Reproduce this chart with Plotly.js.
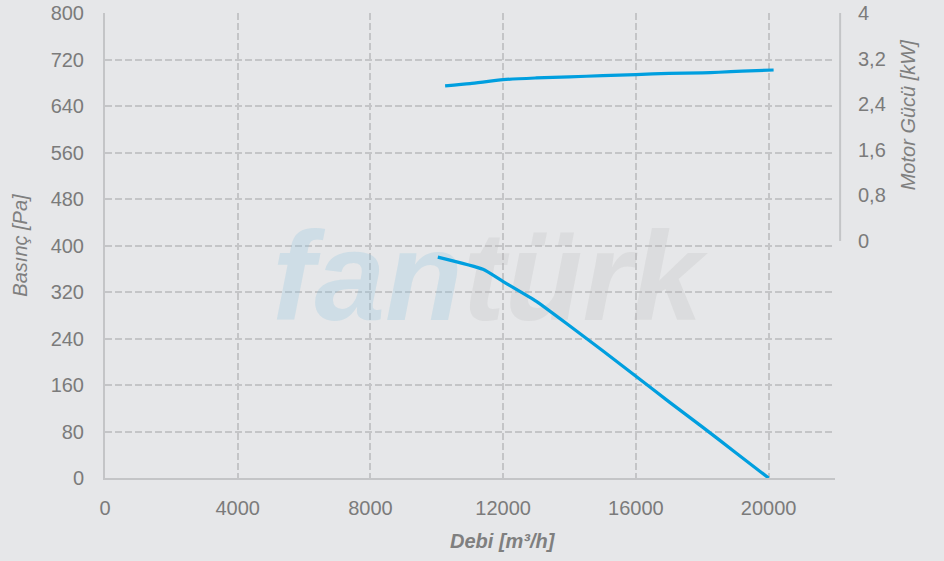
<!DOCTYPE html>
<html>
<head>
<meta charset="utf-8">
<script src="https://cdn.plot.ly/plotly-3.0.1.min.js"></script>
<style>html,body{margin:0;padding:0;background:#e6e7e9;}#chart{width:944px;height:561px;}</style>
</head>
<body>
<div id="chart"></div>
<script>
// Pressure curve (Basınç, Pa) vs flow (Debi, m³/h)
const flowPressure = [10030, 11390, 12000, 13000, 14000, 15000, 16000, 17000, 18000, 19000, 20000];
const pressure     = [380,   359,   338,   304,   262,   219,   175,   131,   88,    44,    0];
// Motor power curve (kW) vs flow
const flowPower = [10250, 11000, 12000, 13000, 14000, 15000, 16000, 17000, 18000, 18500, 19200, 20150];
const power     = [2.72,  2.76,  2.83,  2.86,  2.88,  2.90,  2.92,  2.94,  2.95,  2.96,  2.98,  3.00];

const xTicks = [0, 4000, 8000, 12000, 16000, 20000];
const xTickLabels = ['0', '4000', '8000', '12000', '16000', '20000'];
const yTicks = [0, 80, 160, 240, 320, 400, 480, 560, 640, 720, 800];
const yTickLabels = ['0', '80', '160', '240', '320', '400', '480', '560', '640', '720', '800'];
const y2Ticks = [0, 0.8, 1.6, 2.4, 3.2, 4];
const y2TickLabels = ['0', '0,8', '1,6', '2,4', '3,2', '4'];

const lineColor = '#009fdf';
const gridColor = '#c4c5c7';
const tickColor = '#7b7b7b';
const fontFam = 'Liberation Sans, Arial, sans-serif';

const wmFont = {family: fontFam, size: 127, weight: 'bold', style: 'italic'};
const traces = [
  {x: [10780], y: [326], mode: 'text', text: ['fan'], textposition: 'middle left',
   textfont: Object.assign({color: 'rgba(140,195,222,0.27)'}, wmFont),
   hoverinfo: 'skip', showlegend: false, cliponaxis: false},
  {x: [10780], y: [326], mode: 'text', text: ['türk'], textposition: 'middle right',
   textfont: Object.assign({color: 'rgba(180,181,183,0.22)'}, wmFont),
   hoverinfo: 'skip', showlegend: false, cliponaxis: false},
  {x: flowPressure, y: pressure, mode: 'lines', line: {color: lineColor, width: 3.2, shape: 'spline', smoothing: 0.5},
   hoverinfo: 'x+y', showlegend: false},
  {x: flowPower, y: power, yaxis: 'y2', mode: 'lines', line: {color: lineColor, width: 3.2, shape: 'spline', smoothing: 0.6},
   hoverinfo: 'x+y', showlegend: false}
];

const layout = {
  width: 944, height: 561,
  paper_bgcolor: '#e6e7e9', plot_bgcolor: '#e6e7e9',
  margin: {l: 105, r: 109, t: 13, b: 83},
  font: {family: fontFam, color: tickColor, size: 20},
  showlegend: false,
  xaxis: {
    range: [0, 22000], tickmode: 'array', tickvals: xTicks, ticktext: xTickLabels,
    showgrid: true, gridcolor: gridColor, gridwidth: 2, griddash: '7px,3px',
    zeroline: false, showline: true, linecolor: gridColor, linewidth: 2,
    ticks: 'outside', ticklen: 11, tickcolor: 'rgba(0,0,0,0)',
    tickfont: {size: 20, color: tickColor}, fixedrange: true
  },
  yaxis: {
    range: [0, 800], tickmode: 'array', tickvals: yTicks, ticktext: yTickLabels,
    showgrid: true, gridcolor: gridColor, gridwidth: 2, griddash: '7px,3px',
    zeroline: false, showline: true, linecolor: gridColor, linewidth: 2,
    ticks: 'outside', ticklen: 15, tickcolor: 'rgba(0,0,0,0)',
    tickfont: {size: 20, color: tickColor},
    title: {text: 'Basınç [Pa]', font: {size: 20, style: 'italic', color: '#7f7f7f'}, standoff: 18},
    fixedrange: true
  },
  yaxis2: {
    overlaying: 'y', side: 'right', range: [-4.16, 4],
    tickmode: 'array', tickvals: y2Ticks, ticktext: y2TickLabels,
    showgrid: false, zeroline: false, showline: false,
    ticks: 'outside', ticklen: 18, tickcolor: 'rgba(0,0,0,0)',
    tickfont: {size: 20, color: tickColor}, fixedrange: true
  },
  shapes: [
    {type: 'line', xref: 'paper', yref: 'y2', x0: 1.007, x1: 1.007, y0: 0, y1: 4,
     line: {color: gridColor, width: 2}}
  ],
  annotations: [
    {xref: 'x', yref: 'paper', x: 12000, y: 0, yshift: -63, text: 'Debi [m³/h]', showarrow: false,
     xanchor: 'center', yanchor: 'middle',
     font: {size: 20, weight: 'bold', style: 'italic', color: '#7f7f7f', family: fontFam}},
    {xref: 'paper', yref: 'paper', x: 1, xshift: 73, y: 0.78, text: 'Motor Gücü [kW]', showarrow: false,
     textangle: -90, xanchor: 'center', yanchor: 'middle',
     font: {size: 20, style: 'italic', color: '#7f7f7f', family: fontFam}}
  ]
};

Plotly.newPlot('chart', traces, layout, {displayModeBar: false, staticPlot: true});
</script>
</body>
</html>
